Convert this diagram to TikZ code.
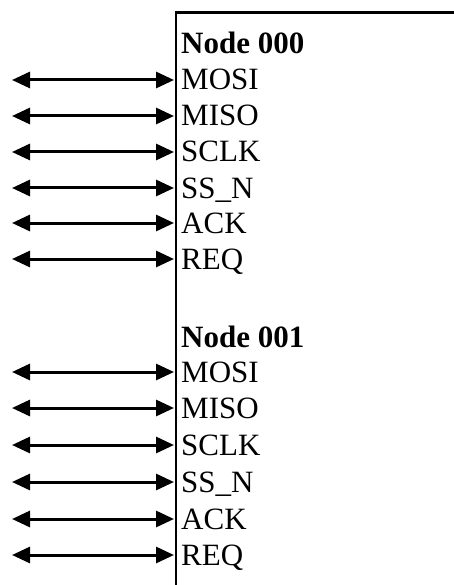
\documentclass[tikz,border=0pt]{standalone}
\usepackage{fontspec}
\setmainfont{Liberation Serif}
\usetikzlibrary{arrows.meta}
\begin{document}
\begin{tikzpicture}[x=1pt,y=-1pt,
  sig/.style={anchor=base west,inner sep=0pt,font=\fontsize{31}{37}\selectfont},
  hdr/.style={sig,font=\fontsize{31}{37}\selectfont\bfseries},
  link/.style={line width=3pt,{Triangle[length=18pt,width=16pt]}-{Triangle[length=18pt,width=16pt]}}]
\useasboundingbox (0,0) rectangle (453,585);
\coordinate (boxtl) at (176,12.5);
\coordinate (boxtr) at (454,12.5);
\coordinate (boxbl) at (176,586);
\draw[line width=2.2pt] (boxtr) -- (boxtl) -- (boxbl);
\node[hdr] (h0) at (181,54) {Node 000};
\node[hdr] (h1) at (181,347) {Node 001};
\foreach \n/\t/\y in {a/MOSI/80,b/MISO/116,c/SCLK/152,d/SS\_N/188,e/ACK/223,f/REQ/259,
                      g/MOSI/372,h/MISO/408,i/SCLK/445,j/SS\_N/482,k/ACK/519,l/REQ/555}{
  \coordinate (L\n) at (12,\y);
  \coordinate (R\n) at (174,\y);
  \node[sig] (T\n) at (181,\y+10) {\t};
  \draw[link] (L\n) -- (R\n);
}
\end{tikzpicture}
\end{document}
